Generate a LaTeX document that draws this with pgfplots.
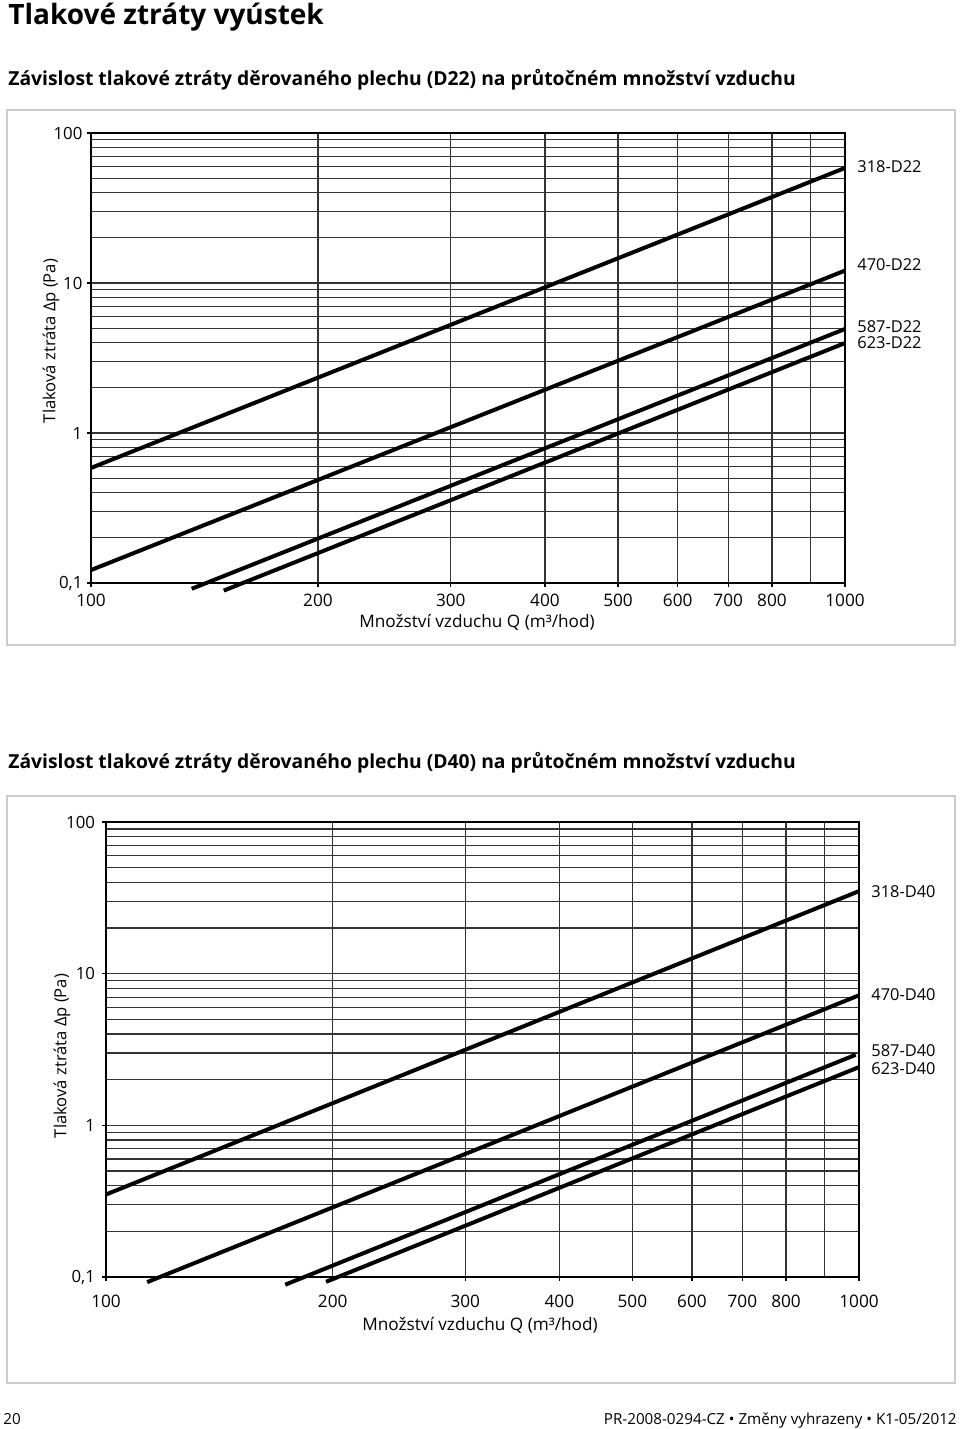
\documentclass[border=0pt]{standalone}
\usepackage{fontspec}
\setmainfont{Open Sans}
\usepackage{pgfplots}
\pgfplotsset{compat=1.18}
\newcommand\tfont{\fontsize{8.2}{9.5}\selectfont}
\newcommand\xfont{\fontsize{8.6}{10}\selectfont}
\tikzset{
  curveln/.style={black, line width=2pt, line cap=butt},
  clab/.style={anchor=west, inner sep=0pt, font=\tfont},
}
\begin{document}
\begin{tikzpicture}
\begin{scope}[x=0.5pt,y=-0.5pt]
\path[use as bounding box] (0,0) rectangle (960,1429);
\draw[black!20, line width=1pt] (7,110) rectangle (955,645);
\draw[black!20, line width=1pt] (7,796) rectangle (955,1383);
\node[anchor=base west, inner sep=0pt, font=\bfseries\fontsize{14}{16}\selectfont] at (8,25) {Tlakové ztráty vyústek};
\node[anchor=base west, inner sep=0pt, font=\bfseries\fontsize{9.65}{11}\selectfont] at (8,86) {Závislost tlakové ztráty děrovaného plechu (D22) na průtočném množství vzduchu};
\node[anchor=base west, inner sep=0pt, font=\bfseries\fontsize{9.65}{11}\selectfont] at (8,768) {Závislost tlakové ztráty děrovaného plechu (D40) na průtočném množství vzduchu};
\node[rotate=90, inner sep=0pt, font=\fontsize{8.3}{9.5}\selectfont] at (51,341) {Tlaková ztráta Δp (Pa)};
\node[rotate=90, inner sep=0pt, font=\fontsize{8.3}{9.5}\selectfont] at (62,1056) {Tlaková ztráta Δp (Pa)};
\node[inner sep=0pt, font=\xfont] at (477,622) {Množství vzduchu Q (m³/hod)};
\node[inner sep=0pt, font=\xfont] at (480,1325) {Množství vzduchu Q (m³/hod)};
\node[anchor=base west, inner sep=0pt, font=\fontsize{7.6}{8}\selectfont] at (3,1424) {20};
\node[anchor=base east, inner sep=0pt, font=\fontsize{7.6}{8}\selectfont] at (957,1424) {PR-2008-0294-CZ • Změny vyhrazeny • K1-05/2012};
\end{scope}

\begin{axis}[anchor=south west, at={(45.5pt,-291.5pt)}, width=377pt, height=225pt,
    xmode=log, ymode=log, scale only axis, clip=false,
    xmin=100, xmax=1000, ymin=0.1, ymax=100,
    xtick={100,200,300,400,500,600,700,800,1000},
    xticklabels={100,200,300,400,500,600,\raisebox{-1pt}{700},800,1000},
    minor xtick={900},
    ytick={0.1,1,10,100},
    yticklabels={{0,1},1,10,100},
    minor ytick={0.2,0.3,0.4,0.5,0.6,0.7,0.8,0.9,2,3,4,5,6,7,8,9,20,30,40,50,60,70,80,90},
    grid=both,
    major grid style={black!80, line width=0.6pt},
    minor grid style={black!80, line width=0.6pt},
    axis line style={black, line width=0.75pt},
    tick align=outside,
    xtick pos=bottom, ytick pos=left,
    major tick length=2pt, minor tick length=0pt,
    tick style={black, line width=0.6pt},
    xticklabel style={font=\xfont},
    yticklabel style={font=\fontsize{8.4}{9.5}\selectfont, xshift=1.2pt}]
\addplot[curveln] coordinates {(100,0.585) (1000,58.5)};
\addplot[curveln] coordinates {(100,0.122) (1000,12.1)};
\addplot[curveln] coordinates {(136,0.0915) (1000,4.94)};
\addplot[curveln] coordinates {(150,0.089) (1000,3.98)};
\node[clab, xshift=6pt] at (axis cs:1000,59.3) {318-D22};
\node[clab, xshift=6pt] at (axis cs:1000,13.2) {470-D22};
\node[clab, xshift=6pt] at (axis cs:1000,5.09) {587-D22};
\node[clab, xshift=6pt] at (axis cs:1000,3.98) {623-D22};
\end{axis}

\begin{axis}[anchor=south west, at={(53pt,-638.5pt)}, width=376.5pt, height=227.5pt,
    xmode=log, ymode=log, scale only axis, clip=false,
    xmin=100, xmax=1000, ymin=0.1, ymax=100,
    xtick={100,200,300,400,500,600,700,800,1000},
    xticklabels={100,200,300,400,500,600,700,\raisebox{-1pt}{800},1000},
    minor xtick={900},
    ytick={0.1,1,10,100},
    yticklabels={{0,1},1,10,100},
    minor ytick={0.2,0.3,0.4,0.5,0.6,0.7,0.8,0.9,2,3,4,5,6,7,8,9,20,30,40,50,60,70,80,90},
    grid=both,
    major grid style={black!80, line width=0.6pt},
    minor grid style={black!80, line width=0.6pt},
    axis line style={black, line width=0.75pt},
    tick align=outside,
    xtick pos=bottom, ytick pos=left,
    major tick length=2pt, minor tick length=0pt,
    tick style={black, line width=0.6pt},
    xticklabel style={font=\xfont, yshift=-3.5pt},
    yticklabel style={font=\fontsize{8.4}{9.5}\selectfont}]
\addplot[curveln] coordinates {(100,0.35) (1000,35)};
\addplot[curveln] coordinates {(113.4,0.0925) (1000,7.2)};
\addplot[curveln] coordinates {(173,0.089) (990,2.92)};
\addplot[curveln] coordinates {(196,0.093) (1000,2.42)};
\node[clab, xshift=6pt] at (axis cs:1000,34.9) {318-D40};
\node[clab, xshift=6pt] at (axis cs:1000,7.31) {470-D40};
\node[clab, xshift=6pt] at (axis cs:1000,3.12) {587-D40};
\node[clab, xshift=6pt] at (axis cs:1000,2.38) {623-D40};
\end{axis}
\end{tikzpicture}
\end{document}
